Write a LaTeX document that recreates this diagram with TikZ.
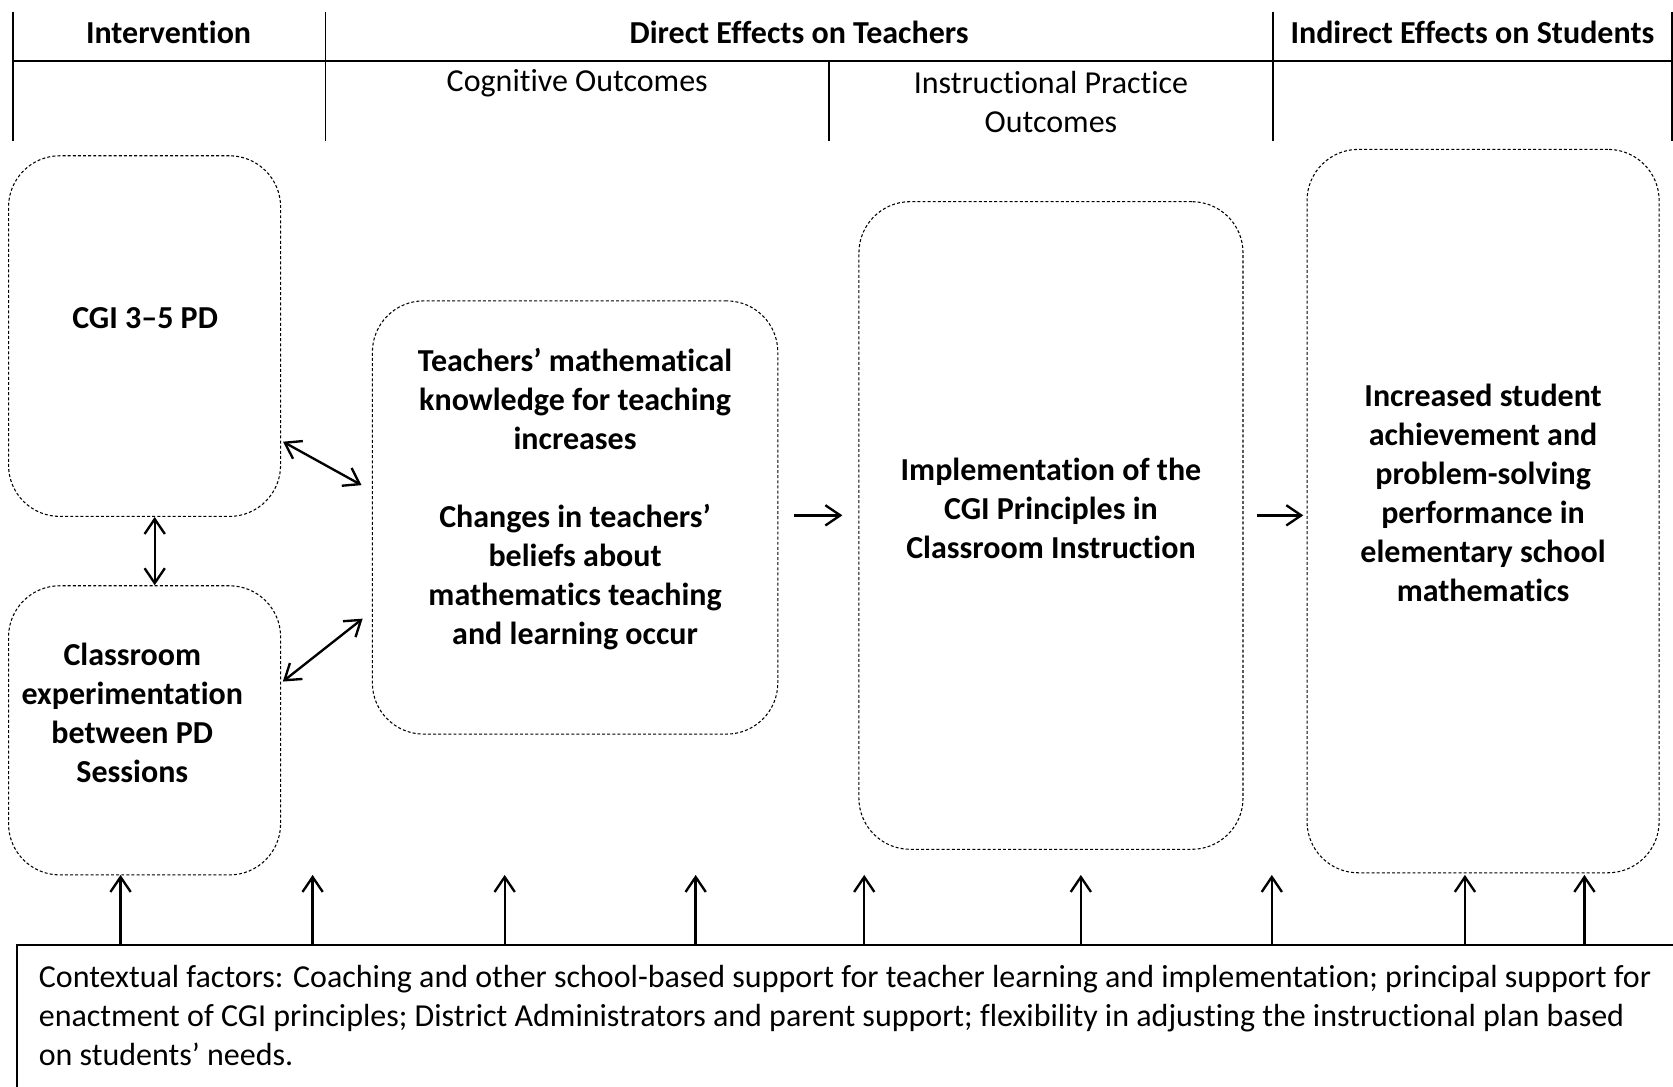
\documentclass[tikz,border=0pt]{standalone}
\usepackage{fontspec}
\setmainfont{Carlito}[Ligatures=NoCommon]
\usetikzlibrary{arrows.meta}

\begin{document}
\begin{tikzpicture}[x=0.5pt,y=-0.5pt,
  every node/.style={font=\fontsize{15}{18.3}\selectfont},
  box/.style={shape=rectangle,draw,rounded corners=24pt,inner sep=0pt,line width=0.5pt,dash pattern=on 1.4pt off 1pt},
  boxtext/.style={align=center,font=\fontsize{15}{18.3}\selectfont\bfseries},
  head/.style={font=\fontsize{15}{18.3}\selectfont\bfseries},
  link/.style={line width=1.1pt,{Straight Barb[length=7pt,width=9.5pt]}-{Straight Barb[length=7pt,width=9.5pt]}},
  push/.style={line width=1.1pt,-{Straight Barb[length=7pt,width=9.5pt]}}]
\useasboundingbox (0,0) rectangle (1568,1018);
\clip (0,0) rectangle (1568,1018);

% header table
\draw [line width=0.8pt] (12,11) -- (12,132) (305,11) -- (305,132) (1193,11) -- (1193,132) (1567,11) -- (1567,132);
\draw [line width=0.8pt] (12,57) -- (1567,57) (777,57) -- (777,132);
\path (158,30) node (hint) [head] {Intervention};
\path (749,30) node (hdir) [head] {Direct Effects on Teachers};
\path (1380,30) node (hind) [head] {Indirect Effects on Students};
\path (541,78) node (hcog) {Cognitive Outcomes};
\path (985,96) node (hins) [align=center] {Instructional Practice\\Outcomes};

% boxes
\path (135.5,315) node (cgi) [box,minimum width=127.5pt,minimum height=169pt] {};
\path (135.5,684.5) node (exper) [box,minimum width=127.5pt,minimum height=135.5pt] {};
\path (539,485) node (teach) [box,minimum width=190pt,minimum height=203pt] {};
\path (985,492.5) node (impl) [box,minimum width=180pt,minimum height=303.5pt] {};
\path (1390,479) node (stud) [box,minimum width=165pt,minimum height=339pt] {};

\path (136,298) node (cgitext) [boxtext] {CGI 3--5 PD};
\path (124,668) node (expertext) [boxtext] {Classroom\\experimentation\\between PD\\Sessions};
\path (539,467.5) node (teachtext) [boxtext] {Teachers’ mathematical\\knowledge for teaching\\increases\\[18.3pt]Changes in teachers’\\beliefs about\\mathematics teaching\\and learning occur};
\path (985,476.5) node (impltext) [boxtext] {Implementation of the\\CGI Principles in\\Classroom Instruction};
\path (1390,462) node (studtext) [boxtext] {Increased student\\achievement and\\problem-solving\\performance in\\elementary school\\mathematics};

% context box
\path (858,998) node (ctx) [shape=rectangle,draw,line width=0.9pt,minimum width=842pt,minimum height=112pt] {};
\path (36,952) node (ctxtext) [anchor=west,align=left,inner xsep=0pt] {Contextual factors: Coaching and other school-based support for teacher learning and implementation; principal support for\\enactment of CGI principles; District Administrators and parent support; flexibility in adjusting the instructional plan based\\on students’ needs.};

% connectors
\draw [link] (cgi.south -| 145,0) -- (exper.north -| 145,0);
\draw [link,shorten <=1pt,shorten >=5.5pt] (cgi.east |- 0,413) -- (teach.west |- 0,460);
\draw [link,shorten <=1pt,shorten >=5.5pt] (exper.east |- 0,640) -- (teach.west |- 0,573);
\draw [push,shorten <=7.5pt,shorten >=7.5pt] (teach.east |- 0,483) -- (impl.west |- 0,483);
\draw [push,shorten <=6.5pt,shorten >=1.5pt] (impl.east |- 0,483) -- (stud.west |- 0,483);
\foreach \x in {113,293,473,652,810,1013,1192,1373,1485}
  \draw [push] (ctx.north -| \x,0) -- (\x,820);
\end{tikzpicture}
\end{document}
